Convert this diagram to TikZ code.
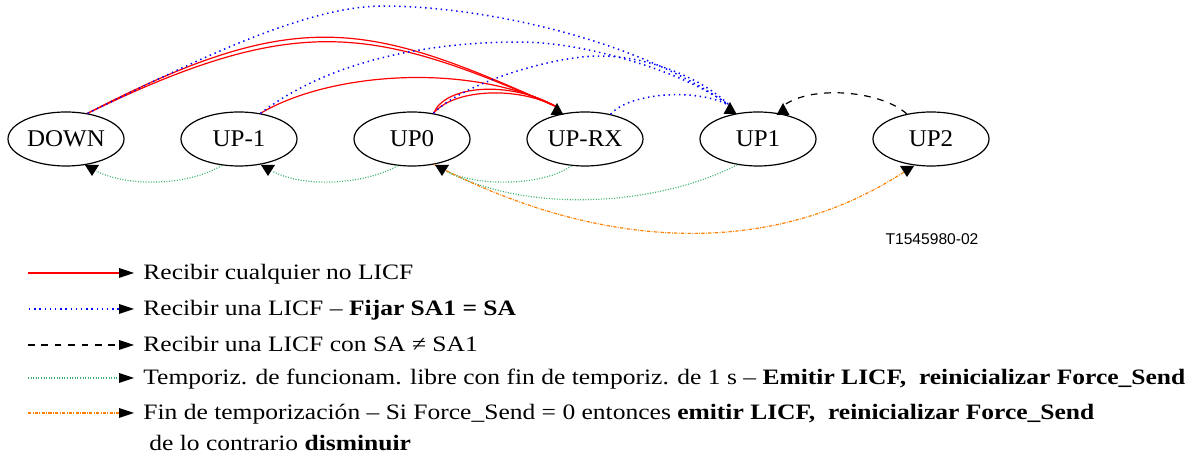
\documentclass[tikz,border=0pt]{standalone}
\usepackage{fontspec}
\setmainfont{Liberation Serif}
\newfontfamily\legendfont[FakeStretch=1.16]{Liberation Serif}
\newfontfamily\statefont[FakeStretch=1.04]{Liberation Serif}
\newfontfamily\labelfont{Liberation Sans}
\usetikzlibrary{shapes.geometric,calc}

\definecolor{edgered}{RGB}{255,0,0}
\definecolor{edgeblue}{RGB}{0,0,255}
\definecolor{edgegreen}{RGB}{60,179,113}
\definecolor{edgeorange}{RGB}{255,127,0}

\begin{document}
\begin{tikzpicture}[x=0.5pt,y=-0.5pt,
  state/.style={ellipse,draw,line width=0.6pt,minimum width=58pt,minimum height=27pt,
    inner sep=0pt,font=\statefont\fontsize{12}{14}\selectfont},
  anyframe/.style={edgered,line width=0.6pt},
  licf/.style={edgeblue,line width=0.75pt,dash pattern=on 0.7pt off 1.9pt},
  licfne/.style={black,line width=0.6pt,dash pattern=on 3.3pt off 3.4pt},
  freerun/.style={edgegreen,line width=0.6pt,dash pattern=on 0.5pt off 0.8pt},
  timeout/.style={edgeorange,line width=0.6pt,dash pattern=on 1.6pt off 0.7pt on 0.4pt off 0.7pt},
  headup/.pic={\fill (0,0) -- (-6.5,12) -- (6.5,12) -- cycle;},
  headdown/.pic={\fill (0,0) -- (-7,-11) -- (7,-11) -- cycle;},
  headright/.pic={\fill (0,0) -- (-15,-5) -- (-15,5) -- cycle;},
  legendtext/.style={anchor=base west,inner sep=0pt,font=\legendfont\fontsize{11}{13}\selectfont},
]
\path[use as bounding box] (0,0) rectangle (1196,459);

% states
\node[state] (down)  at (66,139)  {DOWN};
\node[state] (upm1)  at (239,139) {UP-1};
\node[state] (up0)   at (412,139) {UP0};
\node[state] (uprx)  at (585,139) {UP-RX};
\node[state] (upone) at (758,139) {UP1};
\node[state] (up2)   at (931,139) {UP2};

% arrowhead tips and the points where the connectors end
\coordinate (tRX)   at ($(uprx)+(-28,-36)$);
\coordinate (hRX)   at ($(tRX)+(0,4)$);
\coordinate (tU1b)  at ($(upone)+(-28,-37)$);
\coordinate (hU1b)  at ($(tU1b)+(0,4)$);
\coordinate (tU1k)  at ($(upone)+(25,-36)$);
\coordinate (hU1k)  at ($(tU1k)+(0,3)$);
\coordinate (tU2)   at ($(up2)+(-24,38)$);
\coordinate (hU2)   at ($(tU2)+(-3,-5)$);
\coordinate (tDOWN) at ($(down)+(26,37)$);
\coordinate (gDOWN) at ($(tDOWN)+(4,-5)$);
\coordinate (tUPm1) at ($(upm1)+(29,37)$);
\coordinate (gUPm1) at ($(tUPm1)+(4,-5)$);
\coordinate (tUP0)  at ($(up0)+(30,37)$);
\coordinate (gUP0)  at ($(tUP0)+(4,-5)$);

% any frame that is not an LICF
\draw[anyframe] (down.50) .. controls (300,3) and (370,23) .. (hRX);
\draw[anyframe] (down.50) .. controls (300,10) and (375,28) .. (hRX);
\draw[anyframe] (upm1.50) .. controls (330,72) and (470,62) .. (hRX);
\draw[anyframe] (up0.50) .. controls (445,85) and (510,80) .. (hRX);
\draw[anyframe] (up0.50) .. controls (452,90) and (515,85) .. (hRX);

% LICF received
\draw[licf] (down.50) .. controls (187,65) and (303,6) .. (383,6)
  .. controls (483,6) and (640,40) .. (hU1b);
\draw[licf] (upm1.50) .. controls (330,60) and (430,42) .. (520,42)
  .. controls (590,42) and (690,75) .. (hU1b);
\draw[licf] (up0.50) .. controls (460,85) and (550,56) .. (600,56)
  .. controls (650,56) and (705,80) .. (hU1b);
\draw[licf] (uprx.44) .. controls (630,92) and (700,88) .. (hU1b);

% LICF with SA different from SA1
\draw[licfne] (up2.134) .. controls (880,90) and (810,85) .. (hU1k);

% free-running timer expiry
\draw[freerun] (upm1.237) .. controls (190,185) and (130,188) .. (gDOWN);
\draw[freerun] (up0.242) .. controls (363,185) and (303,188) .. (gUPm1);
\draw[freerun] (uprx.243) .. controls (545,185) and (480,188) .. (gUP0);
\draw[freerun] (upone.231) .. controls (660,205) and (530,215) .. (gUP0);

% timeout
\draw[timeout] (up0.311) .. controls (604,253) and (774,257) .. (hU2);

% arrowheads
\pic at (tRX) {headup};
\pic at (tU1b) {headup};
\pic at (tU1k) {headup};
\pic at (tU2) {headdown};
\pic at (tDOWN) {headdown};
\pic at (tUPm1) {headdown};
\pic at (tUP0) {headdown};

\node[font=\labelfont\fontsize{7.8}{9}\selectfont] (figref) at (932,239) {T1545980-02};

% legend
\coordinate (k1s) at (28,273);  \coordinate (k1e) at (120,273);  \coordinate (k1t) at (134,273);
\coordinate (k2s) at (29,309);  \coordinate (k2e) at (120,309);  \coordinate (k2t) at (134,309);
\coordinate (k3s) at (28,345);  \coordinate (k3e) at (120,345);  \coordinate (k3t) at (134,345);
\coordinate (k4s) at (28,378);  \coordinate (k4e) at (120,378);  \coordinate (k4t) at (134,378);
\coordinate (k5s) at (28,413);  \coordinate (k5e) at (120,413);  \coordinate (k5t) at (134,413);
\draw[anyframe] (k1s) -- (k1e);
\draw[licf] (k2s) -- (k2e);
\draw[licfne] (k3s) -- (k3e);
\draw[freerun] (k4s) -- (k4e);
\draw[timeout] (k5s) -- (k5e);
\pic at (k1t) {headright};
\pic at (k2t) {headright};
\pic at (k3t) {headright};
\pic at (k4t) {headright};
\pic at (k5t) {headright};

\node[legendtext] (t1) at (143,280) {Recibir cualquier no LICF};
\node[legendtext] (t2) at (143,316) {Recibir una LICF – \textbf{Fijar SA1 = SA}};
\node[legendtext] (t3) at (143,352) {Recibir una LICF con SA ≠ SA1};
\node[legendtext] (t4) at (143,385) {Temporiz. de funcionam. libre con fin de temporiz. de 1 s – \textbf{Emitir LICF,\ \ reinicializar Force\_Send}};
\node[legendtext] (t5) at (143,420) {Fin de temporización – Si Force\_Send = 0 entonces \textbf{emitir LICF,\ \ reinicializar Force\_Send}};
\node[legendtext] (t6) at (149,451) {de lo contrario \textbf{disminuir}};
\end{tikzpicture}
\end{document}
